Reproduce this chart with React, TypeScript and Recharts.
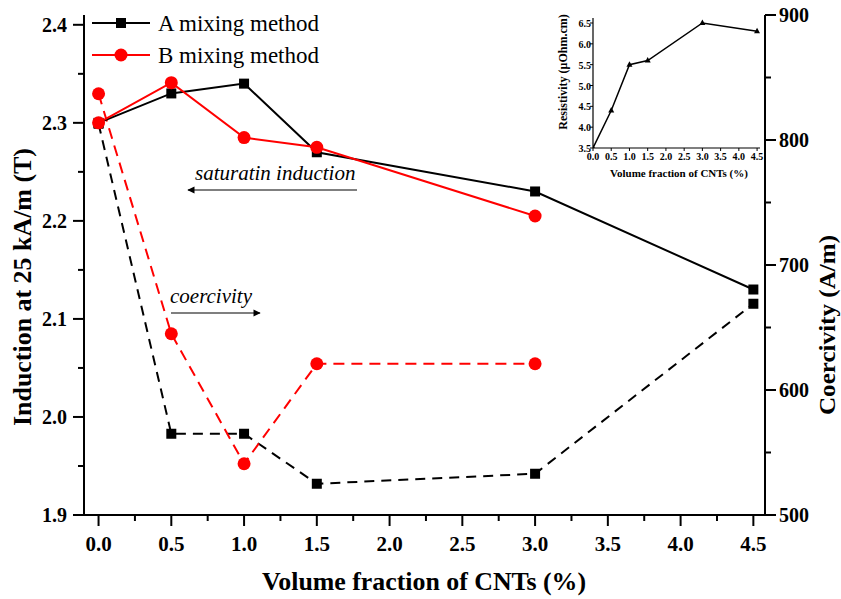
import React from "react";
import { ComposedChart, LineChart, Line, XAxis, YAxis } from "recharts";

// main chart: CNT volume fraction vs induction (left) and coercivity (right)
const volumeFraction = [0, 0.5, 1.0, 1.5, 3.0, 4.5];
const inductionA = [2.3, 2.33, 2.34, 2.27, 2.23, 2.13];
const inductionB = [2.3, 2.341, 2.285, 2.275, 2.205, null];
const coercivityA = [813, 565, 565, 525, 533, 669];
const coercivityB = [837, 645, 541, 621, 621, null];

// inset: resistivity
const insetFraction = [0, 0.5, 1.0, 1.5, 3.0, 4.5];
const resistivity = [3.5, 4.4, 5.5, 5.6, 6.5, 6.3];

const xTicks = [0, 0.25, 0.5, 0.75, 1, 1.25, 1.5, 1.75, 2, 2.25, 2.5, 2.75, 3, 3.25, 3.5, 3.75, 4, 4.25, 4.5];
const leftTicks = [1.9, 1.95, 2.0, 2.05, 2.1, 2.15, 2.2, 2.25, 2.3, 2.35, 2.4];
const rightTicks = [500, 550, 600, 650, 700, 750, 800, 850, 900];
const insetXTicks = [0, 0.5, 1, 1.5, 2, 2.5, 3, 3.5, 4, 4.5];
const insetYTicks = [3.5, 4.0, 4.5, 5.0, 5.5, 6.0, 6.5];

const data = volumeFraction.map((x, i) => ({
  x,
  aInd: inductionA[i],
  bInd: inductionB[i],
  aCoer: coercivityA[i],
  bCoer: coercivityB[i],
}));
const insetData = insetFraction.map((x, i) => ({ x, r: resistivity[i] }));

const FONT = '"Liberation Serif", "Times New Roman", Times, serif';
const RED = "#f00";

const isMajor = (v: number, step: number) => Math.abs(v / step - Math.round(v / step)) < 1e-6;

const XTick = ({ x, y, payload }: any) => {
  const major = isMajor(payload.value, 0.5);
  return (
    <g>
      <line x1={x} x2={x} y1={y} y2={y + (major ? 11 : 6)} stroke="#000" strokeWidth={2} />
      {major && (
        <text x={x} y={y + 36} textAnchor="middle" style={{ fontFamily: FONT }} fontWeight="bold" fontSize={21}>
          {payload.value.toFixed(1)}
        </text>
      )}
    </g>
  );
};

const LeftTick = ({ x, y, payload }: any) => {
  const major = isMajor(payload.value, 0.1);
  return (
    <g>
      <line x1={x} x2={x - (major ? 11 : 6)} y1={y} y2={y} stroke="#000" strokeWidth={2} />
      {major && (
        <text x={x - 17} y={y + 7} textAnchor="end" style={{ fontFamily: FONT }} fontWeight="bold" fontSize={20}>
          {payload.value.toFixed(1)}
        </text>
      )}
    </g>
  );
};

const RightTick = ({ x, y, payload }: any) => {
  const major = isMajor(payload.value, 100);
  return (
    <g>
      <line x1={x} x2={x + (major ? 11 : 6)} y1={y} y2={y} stroke="#000" strokeWidth={2} />
      {major && (
        <text x={x + 14} y={y + 7} textAnchor="start" style={{ fontFamily: FONT }} fontWeight="bold" fontSize={20}>
          {payload.value}
        </text>
      )}
    </g>
  );
};

const InsetXTick = ({ x, y, payload }: any) => (
  <g>
    <line x1={x} x2={x} y1={y} y2={y + 3} stroke="#000" strokeWidth={1} />
    <text x={x} y={y + 12} textAnchor="middle" style={{ fontFamily: FONT }} fontWeight="bold" fontSize={10}>
      {payload.value.toFixed(1)}
    </text>
  </g>
);

const InsetYTick = ({ x, y, payload }: any) => (
  <g>
    <line x1={x} x2={x - 3} y1={y} y2={y} stroke="#000" strokeWidth={1} />
    <text x={x - 2} y={y + 4} textAnchor="end" style={{ fontFamily: FONT }} fontWeight="bold" fontSize={10}>
      {payload.value.toFixed(1)}
    </text>
  </g>
);

const Square = ({ cx, cy, fill }: any) =>
  cx == null || cy == null ? null : <rect x={cx - 5} y={cy - 5} width={10} height={10} fill={fill} />;

const Circle = ({ cx, cy, fill }: any) =>
  cx == null || cy == null ? null : <circle cx={cx} cy={cy} r={6.5} fill={fill} />;

const Triangle = ({ cx, cy }: any) =>
  cx == null || cy == null ? null : (
    <path d={`M${cx},${cy - 3.5} L${cx + 3},${cy + 2} L${cx - 3},${cy + 2} Z`} fill="#000" />
  );

function Overlay() {
  return (
    <svg
      width={841}
      height={599}
      style={{ position: "absolute", left: 0, top: 0, pointerEvents: "none", fontFamily: FONT }}
    >
      <defs>
        <marker id="arr" viewBox="0 0 10 10" refX="9" refY="5" markerWidth="9" markerHeight="6" orient="auto">
          <path d="M0,0 L10,5 L0,10 Z" fill="#000" />
        </marker>
      </defs>
      {/* legend */}
      <line x1={92} x2={150} y1={23} y2={23} stroke="#000" strokeWidth={2} />
      <rect x={116} y={18} width={10} height={10} fill="#000" />
      <text x={158} y={31} fontSize={23}>A mixing method</text>
      <line x1={92} x2={150} y1={55} y2={55} stroke={RED} strokeWidth={2} />
      <circle cx={121} cy={55} r={6.5} fill={RED} />
      <text x={158} y={63} fontSize={23}>B mixing method</text>

      {/* annotations */}
      <text x={195} y={180} fontStyle="italic" fontSize={21}>saturatin induction</text>
      <line x1={357} x2={188} y1={190} y2={190} stroke="#000" strokeWidth={1.2} markerEnd="url(#arr)" />
      <text x={170} y={303} fontStyle="italic" fontSize={21}>coercivity</text>
      <line x1={171} x2={260} y1={313} y2={313} stroke="#000" strokeWidth={1.2} markerEnd="url(#arr)" />

      {/* axis titles */}
      <text
        transform="translate(31,287) rotate(-90)"
        textAnchor="middle"
        fontWeight="bold"
        fontSize={25}
        textLength={278}
        lengthAdjust="spacingAndGlyphs"
      >
        Induction at 25 kA/m (T)
      </text>
      <text
        transform="translate(835,325) rotate(-90)"
        textAnchor="middle"
        fontWeight="bold"
        fontSize={24}
        textLength={180}
        lengthAdjust="spacingAndGlyphs"
      >
        Coercivity (A/m)
      </text>
      <text
        x={424}
        y={590}
        textAnchor="middle"
        fontWeight="bold"
        fontSize={25}
        textLength={324}
        lengthAdjust="spacingAndGlyphs"
      >
        Volume fraction of CNTs (%)
      </text>

      {/* inset titles */}
      <text transform="translate(567,72) rotate(-90)" textAnchor="middle" fontWeight="bold" fontSize={12}>
        Resistivity (μOhm.cm)
      </text>
      <text x={679} y={177} textAnchor="middle" fontWeight="bold" fontSize={11}>
        Volume fraction of CNTs (%)
      </text>
    </svg>
  );
}

export default function App() {
  return (
    <div
      style={{ position: "absolute", left: 0, top: 0, width: 841, height: 599, background: "#fff", fontFamily: FONT }}
    >
      <ComposedChart width={841} height={599} data={data} margin={{ top: 15, right: 0, bottom: 0, left: 0 }}>
        <XAxis
          type="number"
          dataKey="x"
          domain={[-0.1, 4.58]}
          allowDataOverflow
          ticks={xTicks}
          interval={0}
          height={84}
          tickSize={0}
          tickMargin={0}
          tick={<XTick />}
          axisLine={{ stroke: "#000", strokeWidth: 2 }}
        />
        <YAxis
          yAxisId="left"
          domain={[1.9, 2.41]}
          allowDataOverflow
          ticks={leftTicks}
          interval={0}
          width={84}
          tickSize={0}
          tickMargin={0}
          tick={<LeftTick />}
          axisLine={{ stroke: "#000", strokeWidth: 2 }}
        />
        <YAxis
          yAxisId="right"
          orientation="right"
          domain={[500, 900]}
          allowDataOverflow
          ticks={rightTicks}
          interval={0}
          width={76}
          tickSize={0}
          tickMargin={0}
          tick={<RightTick />}
          axisLine={{ stroke: "#000", strokeWidth: 2 }}
        />
        <Line
          yAxisId="right"
          dataKey="aCoer"
          stroke="#000"
          strokeWidth={2}
          strokeDasharray="10 7"
          dot={<Square fill="#000" />}
          isAnimationActive={false}
        />
        <Line
          yAxisId="right"
          dataKey="bCoer"
          stroke={RED}
          strokeWidth={2}
          strokeDasharray="11 7"
          dot={<Circle fill={RED} />}
          isAnimationActive={false}
        />
        <Line
          yAxisId="left"
          dataKey="aInd"
          stroke="#000"
          strokeWidth={2}
          dot={<Square fill="#000" />}
          isAnimationActive={false}
        />
        <Line
          yAxisId="left"
          dataKey="bInd"
          stroke={RED}
          strokeWidth={2}
          dot={<Circle fill={RED} />}
          isAnimationActive={false}
        />
      </ComposedChart>

      <div style={{ position: "absolute", left: 540, top: 0 }}>
        <LineChart width={230} height={185} data={insetData} margin={{ top: 18, right: 10, bottom: 0, left: 0 }}>
          <XAxis
            type="number"
            dataKey="x"
            domain={[0, 4.58]}
            allowDataOverflow
            ticks={insetXTicks}
            interval={0}
            height={37}
            tickSize={0}
            tickMargin={0}
            tick={<InsetXTick />}
            axisLine={{ stroke: "#000", strokeWidth: 1.2 }}
          />
          <YAxis
            domain={[3.5, 6.62]}
            allowDataOverflow
            ticks={insetYTicks}
            interval={0}
            width={53}
            tickSize={0}
            tickMargin={0}
            tick={<InsetYTick />}
            axisLine={{ stroke: "#000", strokeWidth: 1.2 }}
          />
          <Line
            dataKey="r"
            stroke="#000"
            strokeWidth={1.5}
            dot={<Triangle />}
            isAnimationActive={false}
          />
        </LineChart>
      </div>

      <Overlay />
    </div>
  );
}
